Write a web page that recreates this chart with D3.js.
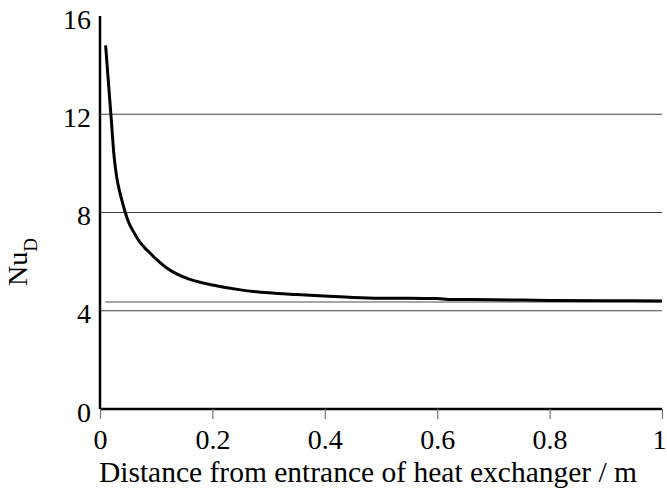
<!DOCTYPE html>
<html><head><meta charset="utf-8">
<script src="https://cdn.jsdelivr.net/npm/d3@7"></script>
<style>body{margin:0;background:#fff}svg{display:block}</style>
</head><body>
<svg id="c" width="667" height="494"></svg>
<script>
const distance = [0.01,0.015,0.02,0.025,0.03,0.035,0.04,0.045,0.05,0.06,0.07,0.08,0.09,0.1,0.12,0.14,0.16,0.18,0.2,0.25,0.3,0.35,0.4,0.45,0.5,0.6,0.62,0.7,0.8,0.9,1.0];
const nusselt  = [14.8,13.3,11.8,10.3,9.4,8.85,8.4,8.0,7.65,7.2,6.82,6.55,6.33,6.1,5.72,5.46,5.28,5.15,5.05,4.85,4.73,4.66,4.6,4.54,4.51,4.5,4.46,4.45,4.42,4.41,4.40];
const fullyDeveloped = [{x:0.009,y:4.36},{x:1.0,y:4.36}];
const xTicks = [0,0.2,0.4,0.6,0.8,1];
const yTicks = [0,4,8,12,16];
const gridValues = [4,8,12];
const xTitle = "Distance from entrance of heat exchanger / m";

const FONT = "Liberation Serif";
const svg = d3.select("#c");
const x = d3.scaleLinear().domain([0,1]).range([100,662]);
const y = d3.scaleLinear().domain([0,16]).range([409,16]);

// gridlines
svg.append("g").selectAll("line").data(gridValues).join("line")
  .attr("x1",x(0)).attr("x2",x(1)).attr("y1",d=>y(d)).attr("y2",d=>y(d))
  .attr("stroke","#444").attr("stroke-width",1.2);

// fully developed line
svg.append("path").datum(fullyDeveloped)
  .attr("d",d3.line().x(d=>x(d.x)).y(d=>y(d.y)))
  .attr("stroke","#a6a6a6").attr("stroke-width",2).attr("fill","none");

// x axis
const xa = svg.append("g").attr("transform",`translate(0,${y(0)})`)
  .call(d3.axisBottom(x).tickValues(xTicks).tickSize(10).tickFormat(d3.format("")));
xa.select(".domain").attr("stroke","#000").attr("stroke-width",2.5).attr("d",`M${x(0)},0H${x(1)}`);
xa.selectAll(".tick line").attr("stroke","#777").attr("stroke-width",1.2);
xa.selectAll(".tick text").attr("y",40).attr("dy","0").attr("dx",d=>d===1?-3:0)
  .style("font-family",FONT).style("font-size","28px").attr("fill","#000");

// y axis
const ya = svg.append("g").attr("transform",`translate(${x(0)},0)`)
  .call(d3.axisLeft(y).tickValues(yTicks).tickSize(0).tickPadding(9));
ya.select(".domain").attr("stroke","#000").attr("stroke-width",2.5).attr("d",`M0,${y(16)}V${y(0)}`);
ya.selectAll(".tick text").attr("dy","0.43em")
  .style("font-family",FONT).style("font-size","28px").attr("fill","#000");

// curve
svg.append("path").datum(distance.map((d,i)=>({x:d,y:nusselt[i]})))
  .attr("d",d3.line().x(d=>x(d.x)).y(d=>y(d.y)).curve(d3.curveMonotoneX))
  .attr("stroke","#000").attr("stroke-width",3).attr("fill","none");

// titles
svg.append("text").attr("x",368).attr("y",482).attr("text-anchor","middle")
  .style("font-family",FONT).style("font-size","29.5px").attr("fill","#000").text(xTitle);
const yl = svg.append("text").attr("transform","translate(27,262) rotate(-90)").attr("text-anchor","middle")
  .style("font-family",FONT).style("font-size","28px").attr("fill","#000");
yl.append("tspan").text("Nu");
yl.append("tspan").style("font-size","19px").attr("dy",10).text("D");
</script>
</body></html>
